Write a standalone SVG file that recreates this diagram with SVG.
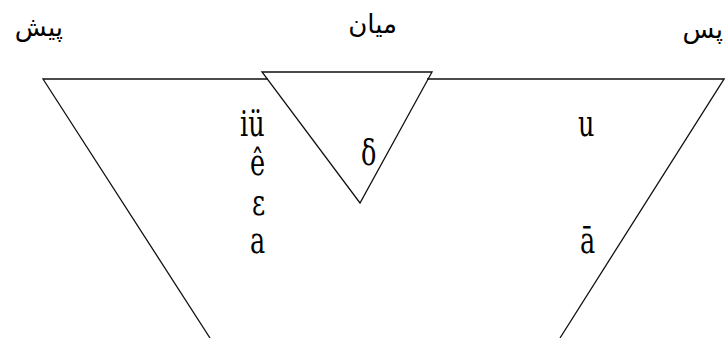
<svg xmlns="http://www.w3.org/2000/svg" width="725" height="338" viewBox="0 0 725 338">
<style>
.ln{fill:none;stroke:#111;stroke-width:1.3;stroke-linejoin:miter}
.ar{font-family:"DejaVu Sans","Noto Sans",sans-serif;font-size:26px;fill:#000}
.lt{font-family:"DejaVu Serif",serif;fill:#000}
</style>
<rect width="725" height="338" fill="#fff"/>
<g id="connectors">
<polyline class="ln" points="210,338 43,79 268,79"/>
<polyline class="ln" points="427,79 724,79 560,338"/>
</g>
<g id="mid-triangle">
<polygon class="ln" points="262,72 432,72 360,203"/>
</g>
<g id="labels-top">
<text class="ar" x="63" y="36" text-anchor="end">پیش</text>
<text class="ar" x="397" y="33" text-anchor="end">میان</text>
<text class="ar" x="723" y="38" text-anchor="end">پس</text>
</g>
<g id="front-vowels">
<text class="lt" font-size="30" transform="translate(240,136) scale(0.85,1.15)">iü</text>
<text class="lt" font-size="30" transform="translate(250,175) scale(0.85,1.15)">ê</text>
<text class="lt" font-size="30" transform="translate(252,215) scale(0.85,1.15)">ε</text>
<text class="lt" font-size="30" transform="translate(250,253) scale(0.85,1.15)">a</text>
</g>
<g id="mid-vowel">
<text class="lt" font-size="30" transform="translate(361,165) scale(0.85,1.15)">δ</text>
</g>
<g id="back-vowels">
<text class="lt" font-size="30" transform="translate(578,136) scale(0.85,1.15)">u</text>
<text class="lt" font-size="30" transform="translate(580,253) scale(0.85,1.15)">ā</text>
</g>
</svg>
